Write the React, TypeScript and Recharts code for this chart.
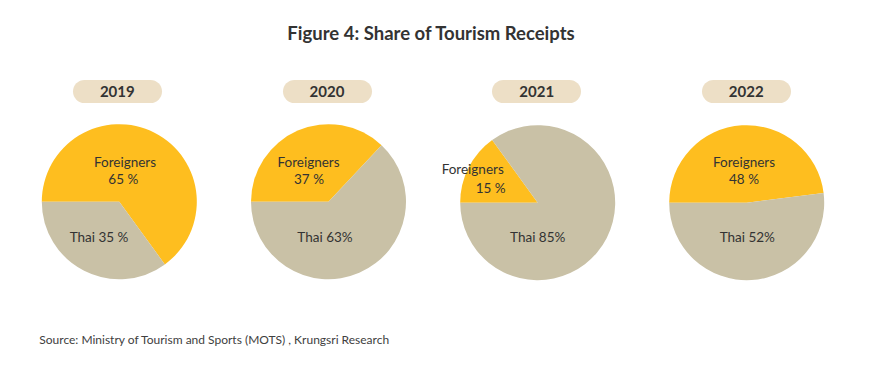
import React from 'react';
import { PieChart, Pie, Cell } from 'recharts';

const years = ['2019', '2020', '2021', '2022'];
const foreignShare = [65, 37, 15, 48];
const thaiShare = [35, 63, 85, 52];
const foreignLabels = ['65 %', '37 %', '15 %', '48 %'];
const thaiLabels = ['Thai 35 %', 'Thai 63%', 'Thai 85%', 'Thai 52%'];
const categoryNames = ['Foreigners', 'Thai'];

const COLORS = ['#FEBE1F', '#C9C1A6'];
const FONT = 'Lato, "Open Sans", sans-serif';

// layout (pixels)
const pieCx = [119.3, 328.5, 537.7, 746.7];
const pieCy = [201.7, 201.7, 202.7, 202.7];
const pillCx = [117.3, 327, 536.7, 746.2];
const R = 77.5;
// label offsets from pie centre: [line1 dx, line1 dy, line2 dx, line2 dy, thai dx, thai dy]
const labelOffsets = [
  [5.7, -40, 4, -22.4, -20.3, 35],
  [-20, -40, -19.5, -22.4, -3.5, 35],
  [-65, -33.4, -47, -15, 0, 34],
  [-2.7, -41, -2.7, -23.4, 0.6, 34],
];

const makeLabel = (pi: number) => (props: any) => {
  const { cx, cy, index } = props;
  const o = labelOffsets[pi];
  const common = {
    textAnchor: 'middle' as const,
    dominantBaseline: 'central' as const,
    fill: '#333333',
    fontSize: 13.5,
    fontFamily: FONT,
  };
  if (index === 0) {
    return (
      <g>
        <text x={cx + o[0]} y={cy + o[1]} {...common}>{categoryNames[0]}</text>
        <text x={cx + o[2]} y={cy + o[3]} {...common}>{foreignLabels[pi]}</text>
      </g>
    );
  }
  return (
    <text x={cx + o[4]} y={cy + o[5]} {...common}>{thaiLabels[pi]}</text>
  );
};

export default function App() {
  return (
    <div style={{ position: 'absolute', left: 0, top: 0, width: 870, height: 370, background: '#fff', fontFamily: FONT }}>
      <div style={{ position: 'absolute', left: 0, width: 862, top: 20, textAlign: 'center', fontWeight: 700, fontSize: 18.5, color: '#333333', lineHeight: '26px' }}>
        Figure 4: Share of Tourism Receipts
      </div>
      {years.map((y, i) => (
        <div key={y} style={{ position: 'absolute', left: pillCx[i] - 44.5, top: 79.5, width: 89, height: 23, borderRadius: 11.5, background: '#EDDFC6', textAlign: 'center', lineHeight: '23px', fontWeight: 700, fontSize: 15, color: '#333333' }}>
          {y}
        </div>
      ))}
      <div style={{ position: 'absolute', left: 0, top: 0 }}>
        <PieChart width={870} height={370} margin={{ top: 0, right: 0, bottom: 0, left: 0 }}>
          {years.map((y, i) => (
            <Pie
              key={y}
              data={[
                { name: categoryNames[0], value: foreignShare[i] },
                { name: categoryNames[1], value: thaiShare[i] },
              ]}
              dataKey="value"
              nameKey="name"
              cx={pieCx[i]}
              cy={pieCy[i]}
              outerRadius={R}
              startAngle={180}
              endAngle={-180}
              stroke="none"
              labelLine={false}
              label={makeLabel(i)}
              isAnimationActive={false}
            >
              <Cell fill={COLORS[0]} />
              <Cell fill={COLORS[1]} />
            </Pie>
          ))}
        </PieChart>
      </div>
      <div style={{ position: 'absolute', left: 39.3, top: 332, fontSize: 12, color: '#404040', lineHeight: '16px', whiteSpace: 'nowrap' }}>
        Source: Ministry of Tourism and Sports (MOTS) , Krungsri Research
      </div>
    </div>
  );
}
